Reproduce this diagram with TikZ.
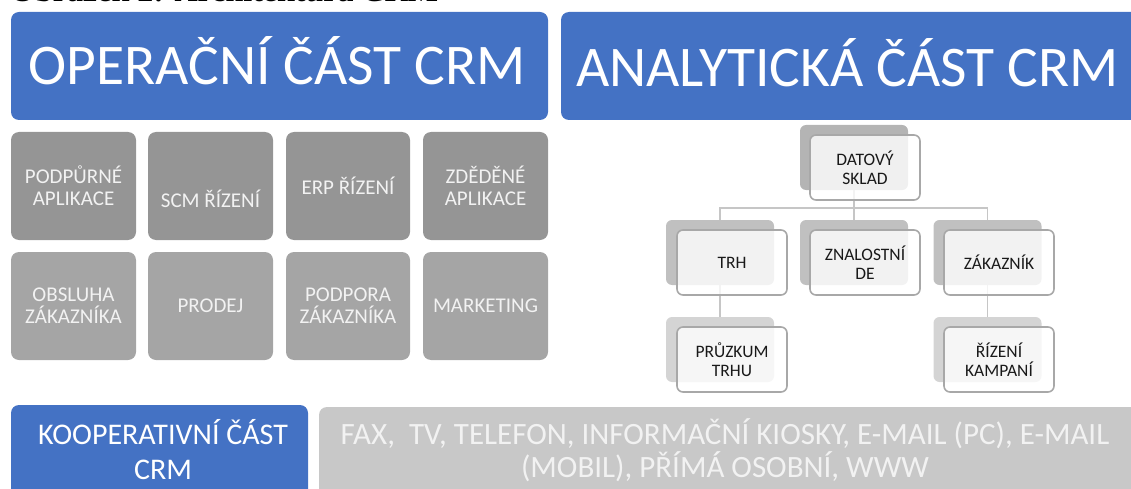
\documentclass[tikz,border=0pt]{standalone}
\usepackage{fontspec}
\setmainfont{Carlito}
\newfontfamily\captionfont{Liberation Serif}
\definecolor{crmblue}{HTML}{4472C4}
\definecolor{opdark}{HTML}{959595}
\definecolor{oplight}{HTML}{A5A5A5}
\definecolor{optext}{HTML}{F2F2F2}
\definecolor{chanfill}{HTML}{C8C8C8}
\definecolor{shadeA}{HTML}{B4B4B4}
\definecolor{shadeB}{HTML}{C0C0C0}
\definecolor{shadeC}{HTML}{D4D4D4}
\definecolor{frontline}{HTML}{A8A8A8}
\definecolor{connline}{HTML}{C6C6C6}
\begin{document}
\begin{tikzpicture}[x=1pt,y=-1pt,
  titlebox/.style={fill=crmblue, rounded corners=8pt, inner sep=0pt, minimum height=108pt},
  titletext/.style={text=white, inner sep=0pt, anchor=base, font=\fontsize{57.5}{60}\selectfont},
  opbox/.style={rounded corners=8pt, minimum width=125pt, minimum height=108pt, inner sep=0pt,
    text=optext, align=center, font=\fontsize{21}{22}\selectfont},
  optext/.style={inner sep=0pt, text=optext, align=center, font=\fontsize{21}{22}\selectfont},
  shade/.style={rounded corners=6pt, minimum width=108pt, minimum height=65pt, inner sep=0pt},
  front/.style={draw=frontline, line width=1.6pt, fill=white, fill opacity=0.8, text opacity=1,
    rounded corners=6pt, minimum width=110pt, minimum height=65pt, inner sep=0pt,
    align=center, text=black!90, font=\fontsize{17.5}{19}\selectfont},
  conn/.style={draw=connline, line width=1.8pt},
  bottomtext/.style={inner sep=0pt, align=center, font=\fontsize{30}{35}\selectfont},
]
\useasboundingbox (0,0) rectangle (1131,489);
\clip (0,0) rectangle (1131,489);

% caption line above the figure
\node[anchor=base west, inner sep=0pt, font=\captionfont\bfseries\fontsize{32}{36}\selectfont] (cap)
  at (10,1.5) {Obrázek 2: Architektura CRM};

% headline boxes
\node[titlebox, minimum width=537pt] (op) at (279.5,66) {};
\node[titletext] (opT) at (277,85) {OPERAČNÍ ČÁST CRM};
\node[titlebox, minimum width=590pt] (an) at (856,66) {};
\node[titletext] (anT) at (847.5,87) {ANALYTICKÁ ČÁST CRM};

% operational modules
\node[opbox, fill=opdark] (m1) at (73.5,186) {PODPŮRNÉ\\APLIKACE};
\node[opbox, fill=opdark] (m2) at (210.5,186) {};
\node[optext] (m2T) at (210.5,199) {SCM ŘÍZENÍ};
\node[opbox, fill=opdark, minimum width=124pt] (m3) at (348,186) {ERP ŘÍZENÍ};
\node[opbox, fill=opdark] (m4) at (485.5,186) {ZDĚDĚNÉ\\APLIKACE};
\node[opbox, fill=oplight] (m5) at (73.5,306) {OBSLUHA\\ZÁKAZNÍKA};
\node[opbox, fill=oplight] (m6) at (210.5,306) {PRODEJ};
\node[opbox, fill=oplight, minimum width=124pt] (m7) at (348,306) {PODPORA\\ZÁKAZNÍKA};
\node[opbox, fill=oplight] (m8) at (485.5,306) {MARKETING};

% analytical hierarchy: back plates
\node[shade, fill=shadeA] (dsS) at (854,157.5) {};
\node[shade, fill=shadeB] (trhS) at (720,252.5) {};
\node[shade, fill=shadeB] (znS) at (854,252.5) {};
\node[shade, fill=shadeB] (zakS) at (987.5,252.5) {};
\node[shade, fill=shadeC] (przS) at (720,349.5) {};
\node[shade, fill=shadeC] (rizS) at (987.5,349.5) {};

% connectors between the plates
\draw[conn] (dsS.south) -- ++(0,18) coordinate (fork);
\draw[conn] (fork) -| (trhS.north);
\draw[conn] (fork) -| (zakS.north);
\draw[conn] (fork) -- (znS.north);
\draw[conn] (trhS.south) -- (przS.north);
\draw[conn] (zakS.south) -- (rizS.north);

% analytical hierarchy: labelled cards
\node[front] (ds) at (865,167.5) {DATOVÝ\\SKLAD};
\node[front] (trh) at (732,262.5) {TRH};
\node[front] (zn) at (865,262.5) {ZNALOSTNÍ\\DE};
\node[front] (zak) at (999,262.5) {ZÁKAZNÍK};
\node[front] (prz) at (732,359.5) {PRŮZKUM\\TRHU};
\node[front] (riz) at (999,359.5) {ŘÍZENÍ\\KAMPANÍ};

% cooperative part and channels
\node[fill=crmblue, rounded corners=8pt, minimum width=297pt, minimum height=100pt, inner sep=0pt]
  (coop) at (159.5,455) {};
\node[bottomtext, text=white] (coopT) at (163,450) {KOOPERATIVNÍ ČÁST\\CRM};
\node[fill=chanfill, rounded corners=8pt, minimum width=825pt, minimum height=100pt, inner sep=0pt]
  (chan) at (731.5,457) {};
\node[bottomtext, text=optext, font=\fontsize{31}{33}\selectfont] (chanT) at (725,450)
  {FAX,\ \ TV, TELEFON, INFORMAČNÍ KIOSKY, E-MAIL (PC), E-MAIL\\(MOBIL), PŘÍMÁ OSOBNÍ, WWW};
\end{tikzpicture}
\end{document}
